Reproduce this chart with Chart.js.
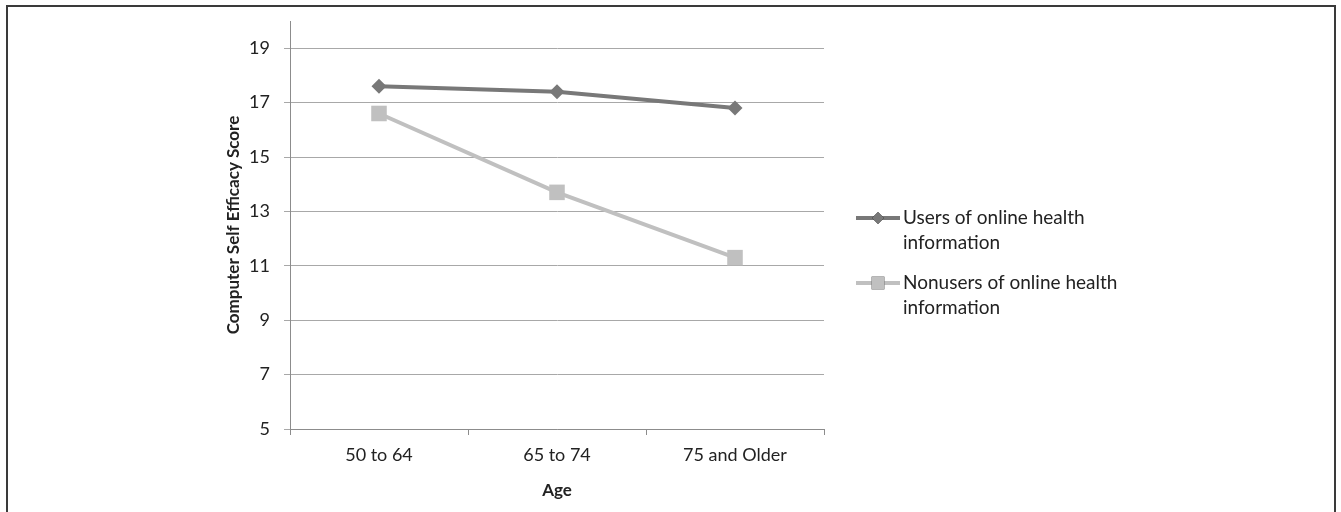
<!DOCTYPE html>
<html>
<head>
<meta charset="utf-8">
<script src="https://cdn.jsdelivr.net/npm/chart.js@4/dist/chart.umd.min.js"></script>
<style>
  html, body { margin: 0; padding: 0; background: #fff; }
  #wrap { position: relative; width: 1341px; height: 512px; }
  #frame { position: absolute; left: 6px; top: 5px; width: 1326px; height: 520px;
           border: 2px solid #3a3a3a; pointer-events: none; }
</style>
</head>
<body>
<div id="wrap">
  <canvas id="ageChart" width="1341" height="512"></canvas>
  <div id="frame"></div>
</div>
<script>
const ageGroups = ["50 to 64", "65 to 74", "75 and Older"];
const usersScores = [17.6, 17.4, 16.8];
const nonusersScores = [16.6, 13.7, 11.3];
const seriesNames = [["Users of online health", "information"], ["Nonusers of online health", "information"]];
const yTicks = [5, 7, 9, 11, 13, 15, 17, 19];

const FONT = "Lato, 'Open Sans', sans-serif";

// legend drawn by hand so the labels can wrap onto two lines
const sideLegend = {
  id: "sideLegend",
  afterDraw(chart) {
    const ctx = chart.ctx;
    const x0 = 856, x1 = 900, tx = 903;
    const rows = [218, 283];
    ctx.save();
    chart.data.datasets.forEach((ds, i) => {
      const y = rows[i];
      ctx.strokeStyle = ds.borderColor;
      ctx.lineWidth = 4;
      ctx.beginPath();
      ctx.moveTo(x0, y);
      ctx.lineTo(x1, y);
      ctx.stroke();
      Chart.helpers.drawPoint(ctx, {
        pointStyle: ds.pointStyle, radius: i === 0 ? 6 : 9, borderWidth: 0
      }, (x0 + x1) / 2, y);
      ctx.fillStyle = ds.pointBackgroundColor;
      ctx.fill();
      ctx.fillStyle = "#222";
      ctx.font = "19px " + FONT;
      ctx.textBaseline = "middle";
      ctx.textAlign = "left";
      seriesNames[i].forEach((line, k) => ctx.fillText(line, tx, y + k * 25));
    });
    ctx.restore();
  }
};

new Chart(document.getElementById("ageChart"), {
  type: "line",
  data: {
    labels: ageGroups,
    datasets: [
      {
        label: seriesNames[0].join(" "),
        data: usersScores,
        borderColor: "#787878",
        backgroundColor: "#787878",
        pointBackgroundColor: "#787878",
        pointBorderWidth: 0,
        borderWidth: 4,
        pointStyle: "rectRot",
        pointRadius: 7.5,
        tension: 0
      },
      {
        label: seriesNames[1].join(" "),
        data: nonusersScores,
        borderColor: "#c0c0c0",
        backgroundColor: "#c0c0c0",
        pointBackgroundColor: "#c0c0c0",
        pointBorderWidth: 0,
        borderWidth: 4,
        pointStyle: "rect",
        pointRadius: 11,
        tension: 0
      }
    ]
  },
  options: {
    responsive: false,
    animation: false,
    layout: { padding: { left: 219, right: 517, top: 21, bottom: 7 } },
    plugins: {
      legend: { display: false },
      tooltip: { enabled: false }
    },
    scales: {
      x: {
        offset: true,
        grid: { offset: true, drawOnChartArea: false, drawTicks: true, tickLength: 6, color: "#8c8c8c" },
        border: { color: "#8c8c8c", width: 1 },
        ticks: { color: "#222", font: { family: FONT, size: 18 }, padding: 9 },
        title: { display: true, text: "Age", color: "#222", font: { family: FONT, size: 17, weight: "bold" }, padding: { top: 8 } },
        afterFit(scale) { scale.height = 76; }
      },
      y: {
        min: 5,
        max: 20,
        afterBuildTicks(axis) {
          axis.ticks = yTicks.map(v => ({ value: v }));
        },
        grid: { color: "#a8a8a8", tickLength: 6, lineWidth: 1 },
        border: { color: "#8c8c8c", width: 1 },
        ticks: { color: "#222", font: { family: FONT, size: 18 }, padding: 14 },
        title: { display: true, text: "Computer Self Efficacy Score", color: "#222", font: { family: FONT, size: 17, weight: "bold" }, padding: { top: 4, bottom: 4 } },
        afterFit(scale) {
          scale.width = 71;
          scale.paddingTop = 0;
          scale.paddingBottom = 0;
        }
      }
    }
  },
  plugins: [sideLegend]
});
</script>
</body>
</html>
